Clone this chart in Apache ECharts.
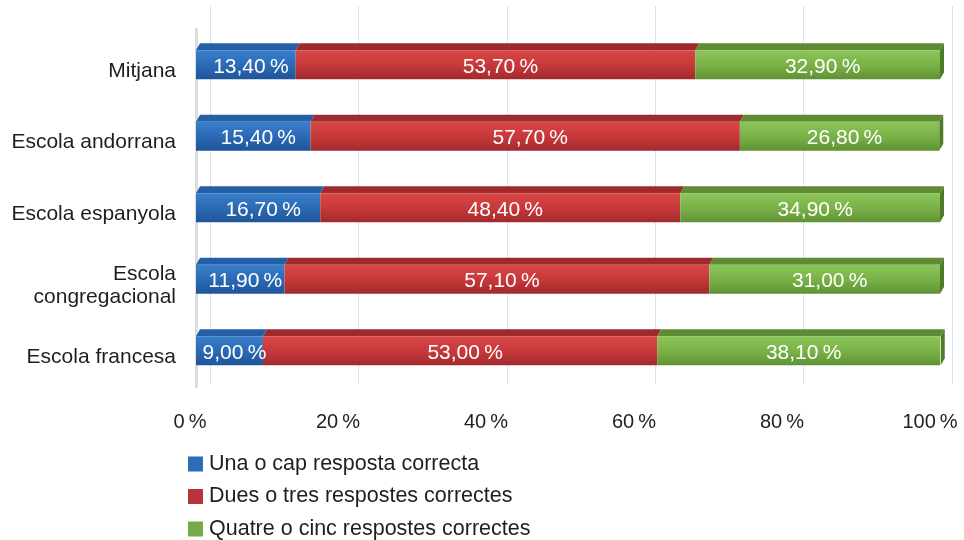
<!DOCTYPE html>
<html>
<head>
<meta charset="utf-8">
<script src="https://cdn.jsdelivr.net/npm/echarts@6/dist/echarts.min.js"></script>
<style>
html,body{margin:0;padding:0;background:#fff;}
#chart{width:964px;height:540px;}
</style>
</head>
<body>
<div id="chart"></div>
<script>
const categories = ['Mitjana', 'Escola andorrana', 'Escola espanyola', 'Escola\ncongregacional', 'Escola francesa'];
const seriesNames = ['Una o cap resposta correcta', 'Dues o tres respostes correctes', 'Quatre o cinc respostes correctes'];
const una = [13.4, 15.4, 16.7, 11.9, 9.0];
const dues = [53.7, 57.7, 48.4, 57.1, 53.0];
const quatre = [32.9, 26.8, 34.9, 31.0, 38.1];
const xTicks = [0, 20, 40, 60, 80, 100];

const values = [una, dues, quatre];
const frontColors = [
  ['#3a7fcc', '#2a68b2', '#1f5599'],
  ['#da4848', '#c63739', '#a02a2d'],
  ['#8cc55a', '#78b046', '#5f9134']
];
const legendColors = ['#2a6cb8', '#b8333a', '#76a94a'];
const topColors = ['#2560a6', '#9e2a2d', '#5e8b33'];
const sideColors = ['#1a4680', '#8a2628', '#4f7a2a'];

const FONT = '"Liberation Sans", Arial, sans-serif';
const BAR_W = 29;
const DEPTH_X = 4;
const DEPTH_Y = 7;

function fmt(v) { return v.toFixed(2).replace('.', ',') + '\u2009%'; }

// 3D faces data: [catIndex, start, end, seriesIdx, isLast]
const faceData = [];
categories.forEach((c, i) => {
  let acc = 0;
  values.forEach((arr, s) => {
    const start = acc; acc += arr[i];
    faceData.push([i, start, acc, s, s === values.length - 1 ? 1 : 0]);
  });
});

const barSeries = values.map((arr, s) => ({
  name: seriesNames[s],
  type: 'bar',
  stack: 'total',
  xAxisIndex: 0, yAxisIndex: 0,
  barWidth: BAR_W,
  z: 3,
  itemStyle: {
    color: {
      type: 'linear', x: 0, y: 0, x2: 0, y2: 1,
      colorStops: [
        { offset: 0, color: frontColors[s][0] },
        { offset: 0.55, color: frontColors[s][1] },
        { offset: 1, color: frontColors[s][2] }
      ]
    }
  },
  label: {
    show: true, position: 'inside', color: '#fff',
    fontFamily: FONT, fontSize: 21, offset: [5, 2],
    formatter: p => fmt(p.value)
  },
  data: arr
}));

const option = {
  animation: false,
  backgroundColor: '#fff',
  textStyle: { fontFamily: FONT },
  grid: [
    { left: 196, right: 24, top: 29, height: 357.5 },
    { left: 210, right: 12, top: 6, height: 378 },
    { left: 190, right: 34, top: 35, height: 357.5 }
  ],
  xAxis: [
    { gridIndex: 0, type: 'value', min: 0, max: 100, show: false },
    { gridIndex: 1, type: 'value', min: 0, max: 100, interval: 20,
      axisLine: { show: false }, axisTick: { show: false }, axisLabel: { show: false },
      splitLine: { show: true, lineStyle: { color: '#d6e4f2', width: 1 } } },
    { gridIndex: 2, type: 'value', min: 0, max: 100, interval: 20,
      axisLine: { show: false }, axisTick: { show: false }, splitLine: { show: false },
      axisLabel: { show: true, margin: 20, color: '#222', fontSize: 20, fontFamily: FONT,
        formatter: v => xTicks.indexOf(v) >= 0 ? v + '\u2009%' : '' } }
  ],
  yAxis: [
    { gridIndex: 0, type: 'category', inverse: true, data: categories,
      axisLine: { show: true, lineStyle: { color: '#dcdcdc', width: 3 } },
      axisTick: { show: false }, axisLabel: { show: false } },
    { gridIndex: 1, type: 'value', show: false },
    { gridIndex: 2, type: 'category', inverse: true, data: categories,
      axisLine: { show: false }, axisTick: { show: false },
      axisLabel: { margin: 14, color: '#1e1e1e', fontSize: 21, fontFamily: FONT, lineHeight: 23, align: 'right' } }
  ],
  legend: {
    orient: 'vertical', left: 188, top: 452, height: 100,
    padding: 0,
    itemWidth: 15, itemHeight: 15, itemGap: 8.5,
    icon: 'rect',
    textStyle: { fontSize: 21.5, lineHeight: 24, color: '#1e1e1e', fontFamily: FONT, padding: [0, 0, 0, 1] },
    data: seriesNames.map((n, s) => ({ name: n, itemStyle: { color: legendColors[s] } }))
  },
  series: barSeries.concat([{
    type: 'custom',
    xAxisIndex: 0, yAxisIndex: 0,
    z: 2,
    silent: true,
    encode: { x: [1, 2], y: 0 },
    data: faceData,
    renderItem: (params, api) => {
      const cat = api.value(0), a = api.value(1), b = api.value(2);
      const s = api.value(3), last = api.value(4);
      const p0 = api.coord([a, cat]);
      const p1 = api.coord([b, cat]);
      const yTop = p0[1] - BAR_W / 2;
      const yBot = p0[1] + BAR_W / 2;
      const children = [{
        type: 'polygon',
        shape: { points: [[p0[0], yTop], [p0[0] + DEPTH_X, yTop - DEPTH_Y], [p1[0] + DEPTH_X, yTop - DEPTH_Y], [p1[0], yTop]] },
        style: { fill: topColors[s] }
      }];
      if (last) {
        children.push({
          type: 'polygon',
          shape: { points: [[p1[0], yTop], [p1[0] + DEPTH_X, yTop - DEPTH_Y], [p1[0] + DEPTH_X, yBot - DEPTH_Y], [p1[0], yBot]] },
          style: { fill: sideColors[s] }
        });
      }
      return { type: 'group', children: children };
    }
  }])
};

const chart = echarts.init(document.getElementById('chart'));
chart.setOption(option);
</script>
</body>
</html>
